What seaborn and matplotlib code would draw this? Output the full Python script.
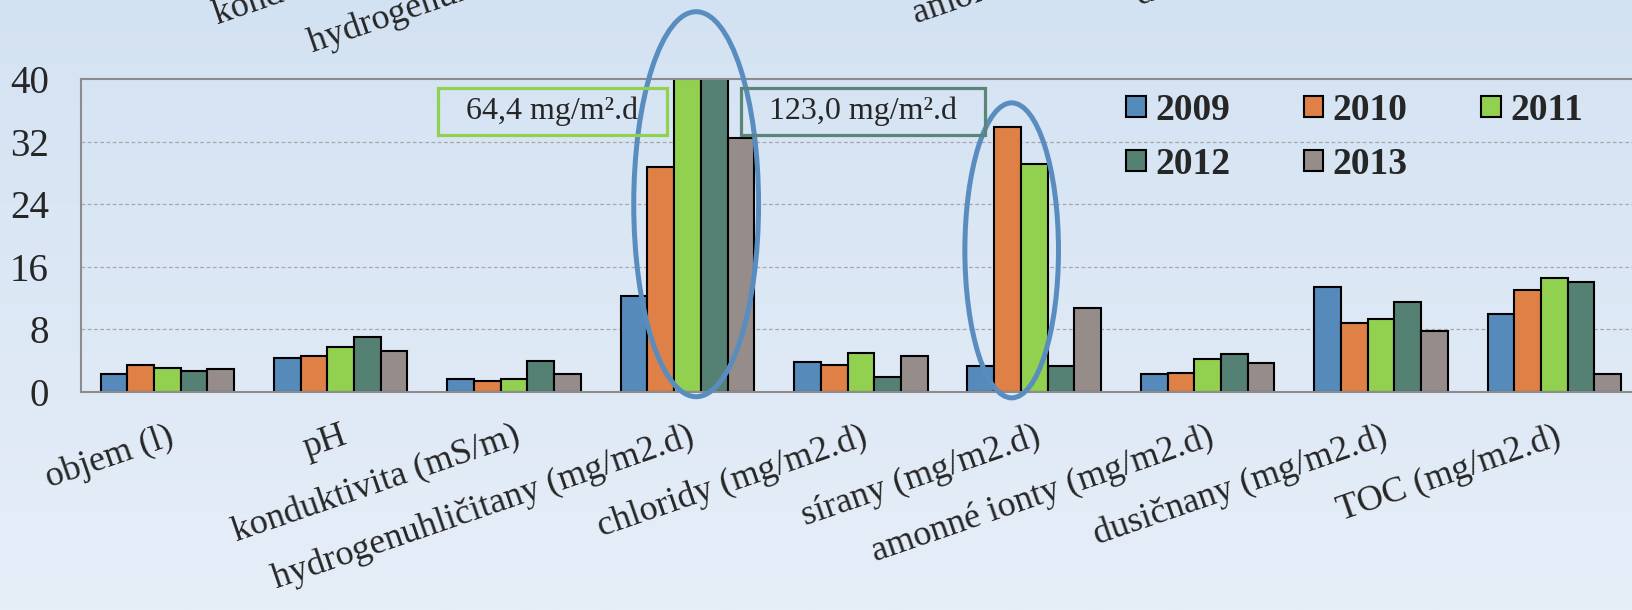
import numpy as np
import pandas as pd
import seaborn as sns
from matplotlib import pyplot as plt
from matplotlib.patches import Ellipse, Rectangle

# kategorie a hodnoty
categories = ['objem (l)', 'pH', 'konduktivita (mS/m)', 'hydrogenuhličitany (mg/m2.d)',
              'chloridy (mg/m2.d)', 'sírany (mg/m2.d)', 'amonné ionty (mg/m2.d)',
              'dusičnany (mg/m2.d)', 'TOC (mg/m2.d)']
years = ['2009', '2010', '2011', '2012', '2013']
v2009 = [2.3, 4.4, 1.6, 12.3, 3.8, 3.3, 2.3, 13.4, 10.0]
v2010 = [3.5, 4.6, 1.4, 28.7, 3.5, 33.9, 2.4, 8.8, 13.0]
v2011 = [3.1, 5.7, 1.7, 64.4, 5.0, 29.2, 4.2, 9.3, 14.6]
v2012 = [2.7, 7.0, 4.0, 123.0, 1.9, 3.3, 4.8, 11.5, 14.0]
v2013 = [2.9, 5.2, 2.3, 32.5, 4.6, 10.7, 3.7, 7.8, 2.3]
colors = ['#558abb', '#df8046', '#92d050', '#558074', '#968c8a']
box_texts = ['64,4 mg/m².d', '123,0 mg/m².d']
# popisky z horniho grafu, ktere jsou videt jen castecne
top_labels = ['konduktivita (mS/m)', 'hydrogenuhličitany (mg/m2.d)',
              'amonné ionty (mg/m2.d)', 'dusičnany (mg/m2.d)']

W, H = 1632, 610
ROT = 19

df = pd.DataFrame({
    'kategorie': categories * 5,
    'rok': np.repeat(years, len(categories)),
    'hodnota': v2009 + v2010 + v2011 + v2012 + v2013,
})

sns.set_style('white')
plt.rcParams['font.family'] = ['Liberation Serif', 'DejaVu Serif']

fig = plt.figure(figsize=(W / 100, H / 100), dpi=100)

# pozadi s prechodem
bg = fig.add_axes([0, 0, 1, 1], zorder=-10)
grad = np.linspace(0, 1, 256).reshape(-1, 1)
top_c = np.array([211, 226, 242]) / 255
bot_c = np.array([230, 238, 248]) / 255
img = top_c * (1 - grad[..., None]) + bot_c * grad[..., None]
bg.imshow(img, aspect='auto', extent=[0, 1, 0, 1])
bg.axis('off')

ax = fig.add_axes([80.7 / W, 1 - 392 / H, (1641 - 80.7) / W, (392 - 79) / H])
ax.set_facecolor('none')

sns.barplot(data=df, x='kategorie', y='hodnota', hue='rok', palette=colors,
            width=0.77, saturation=1, edgecolor='black', linewidth=1.5, ax=ax)

handles, labels = ax.get_legend_handles_labels()
ax.get_legend().remove()

ax.set_ylim(0, 40)
ax.set_xlim(-0.5, len(categories) - 0.5)
ax.set_yticks([0, 8, 16, 24, 32, 40])
ax.set_xlabel('')
ax.set_ylabel('')

ax.set_xticks(range(len(categories)))
ax.set_xticklabels(categories, rotation=ROT, ha='right', va='top', rotation_mode='anchor', fontsize=26)
ax.set_xticks(np.arange(-0.5, len(categories)), minor=True)
ax.tick_params(axis='x', which='major', length=0, pad=20)
ax.tick_params(axis='x', which='minor', length=7.5, width=1.2, color='#8c8c8c', direction='out')
ax.tick_params(axis='y', length=9, width=1.2, color='#8c8c8c', direction='out', pad=14, labelsize=28)

ax.grid(axis='y', color='#a8a8a8', linestyle=(0, (3, 2)), linewidth=0.9)
for g in ax.get_ygridlines()[-1:]:
    g.set_visible(False)
for s in ['left', 'bottom', 'top']:
    ax.spines[s].set_color('#8c8c8c')
    ax.spines[s].set_linewidth(1.5)
ax.spines['right'].set_visible(False)

# elipsy zvyraznujici vysoke hodnoty
ax.add_patch(Ellipse((3.05, 24.0), 0.72, 49.2, fill=False, edgecolor='#5a8dbf', linewidth=3.6,
                     clip_on=False, zorder=5))
ax.add_patch(Ellipse((4.87, 18.1), 0.54, 37.7, fill=False, edgecolor='#5a8dbf', linewidth=3.6,
                     clip_on=False, zorder=5))

# ramecky s hodnotami, ktere jsou mimo rozsah osy
boxes = [((438, 88, 229, 47), '#92d050'), ((741, 88, 244, 47), '#5b8579')]
for (bx, by, bw, bh), ec in boxes:
    fig.patches.append(Rectangle((bx / W, 1 - (by + bh) / H), bw / W, bh / H,
                                 transform=fig.transFigure, fill=False, edgecolor=ec,
                                 linewidth=2.3, zorder=6))
for ((bx, by, bw, bh), ec), t in zip(boxes, box_texts):
    fig.text((bx + bw / 2) / W, 1 - (by + bh / 2) / H, t, ha='center', va='center',
             fontsize=23, zorder=7)

# legenda po radcich
order = [0, 3, 1, 4, 2]
fig.legend([handles[i] for i in order], [labels[i] for i in order], ncol=3,
           loc='upper left', bbox_to_anchor=(1126 / W, 1 - 93 / H), frameon=False,
           prop={'weight': 'bold', 'size': 27}, handlelength=0.53, handleheight=0.47,
           handletextpad=0.25, columnspacing=1.95, labelspacing=0.5, borderpad=0,
           borderaxespad=0)

# useknute popisky horniho grafu
top_pos = [(218, 25), (312, 52), (916, 23), (1139, 5)]
for t, (px, py) in zip(top_labels, top_pos):
    fig.text(px / W, 1 - py / H, t, rotation=ROT, rotation_mode='anchor', ha='left',
             va='baseline', fontsize=26)

fig.savefig('out.png', dpi=100)
